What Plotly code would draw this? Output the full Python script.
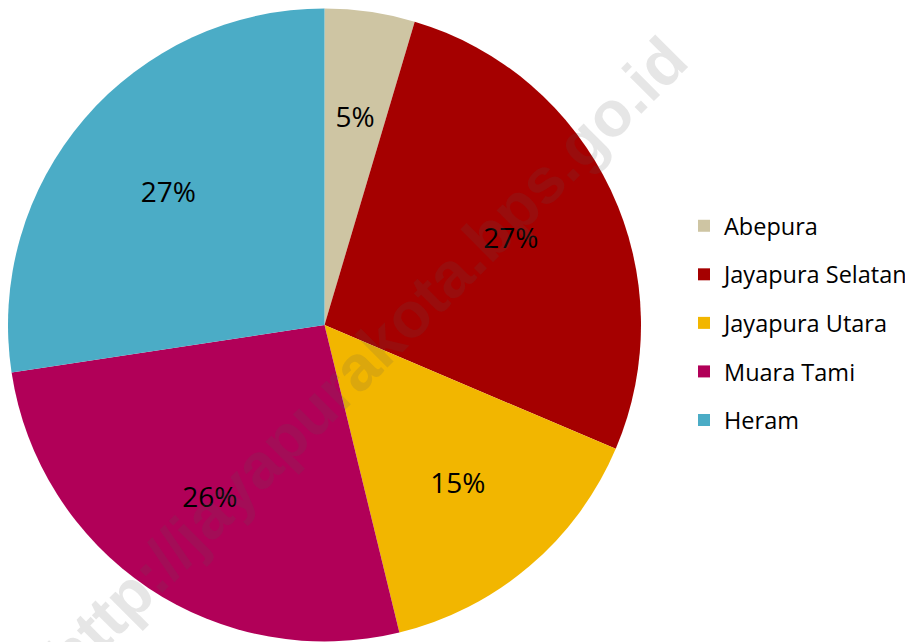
import plotly.graph_objects as go

categories = ["Abepura", "Jayapura Selatan", "Jayapura Utara", "Muara Tami", "Heram"]
values = [4.6, 26.8, 14.8, 26.4, 27.4]
colors = ["#CEC5A3", "#A50000", "#F2B600", "#B10058", "#4BACC6"]
watermark = "http://jayapurakota.bps.go.id"

W, H = 913, 642
CX, CY, R = 316.5, 317.0, 316.5   # pie centre / radius in figure px (from top-left)
RL = 242.0                         # radius of the transparent label ring
HOLE = 0.7025

fig = go.Figure()
fig.add_trace(go.Pie(
    labels=categories, values=values, sort=False, direction="clockwise", rotation=0,
    marker=dict(colors=colors, line=dict(width=0)),
    textinfo="none", showlegend=False, hoverinfo="label+percent",
    domain=dict(x=[(CX - R) / W, (CX + R) / W], y=[(H - CY - R) / H, min(1, (H - CY + R) / H)]),
))
# transparent ring that only carries the percentage labels
fig.add_trace(go.Pie(
    labels=categories, values=values, sort=False, direction="clockwise", rotation=0, hole=HOLE,
    marker=dict(colors=["rgba(0,0,0,0)"] * len(categories), line=dict(width=0)),
    texttemplate="%{percent:.0%}", textposition="inside", insidetextorientation="horizontal",
    textfont=dict(family="Open Sans", size=28, color="#000000"),
    showlegend=False, hoverinfo="skip",
    domain=dict(x=[(CX - RL) / W, (CX + RL) / W], y=[(H - CY - RL) / H, (H - CY + RL) / H]),
))
for i, (c, col) in enumerate(zip(categories, colors)):
    fig.add_trace(go.Scatter(
        x=[None], y=[None], mode="markers", name=c, legendgroup=str(i),
        marker=dict(symbol="square", size=15, color=col),
    ))

fig.add_annotation(
    text="<b>" + watermark + "</b>", x=358 / W, y=1 - 350 / H, xref="paper", yref="paper",
    showarrow=False, textangle=-45, font=dict(family="Liberation Sans", size=64, color="rgba(90,90,90,0.15)"),
)

fig.update_layout(
    width=W, height=H, margin=dict(l=0, r=0, t=0, b=0),
    paper_bgcolor="white", plot_bgcolor="white",
    xaxis=dict(visible=False), yaxis=dict(visible=False),
    legend=dict(x=676 / W, y=1 - 196 / H, xanchor="left", yanchor="top",
                font=dict(family="Open Sans", size=23.5, color="#000000"),
                tracegroupgap=15, itemsizing="constant", bgcolor="rgba(0,0,0,0)"),
)
fig.write_html("out.html")
